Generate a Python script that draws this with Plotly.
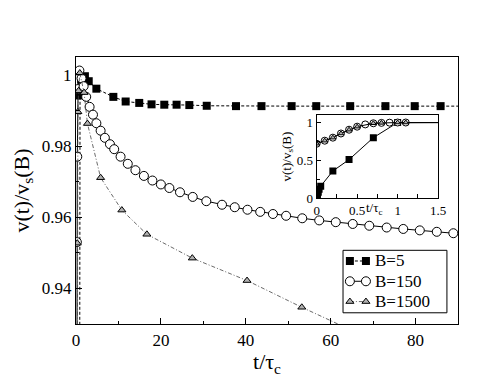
import plotly.graph_objects as go

# ---- main panel data ----
b5_t = [0.0, 0.4, 0.7, 0.95, 1.2, 2.1, 3.0, 4.8, 8.8, 11.7, 14.9, 17.8, 20.8, 23.7,
        26.7, 30.8, 37.7, 43.7, 50.8, 56.6, 64.6, 72.9, 79.8, 85.9, 95.0]
b5_v = [0.0, 0.51, 0.80, 0.9942, 0.9986, 0.9996, 0.9982, 0.9961, 0.9938, 0.9925,
        0.9921, 0.9917, 0.9916, 0.9916, 0.9915, 0.9913, 0.9912, 0.9912, 0.9912,
        0.9912, 0.9912, 0.9912, 0.9912, 0.9912, 0.9912]

b150_t = [0.0, 0.2, 0.3, 0.5, 0.8, 1.3, 1.8, 2.4, 3.2, 4.0, 4.8, 5.8, 6.8, 8.0, 9.0,
          10.5, 12.2, 14.0, 16.0, 18.0, 20.0, 22.0, 24.5, 27.5, 30.7, 34.4, 37.4,
          40.4, 43.4, 46.4, 49.5, 53.3, 57.3, 61.2, 65.2, 69.1, 73.2, 77.1, 81.0,
          85.0, 88.9]
b150_v = [0.72, 0.953, 0.977, 0.996, 1.0012, 0.9990, 0.9968, 0.9938, 0.9910, 0.9888,
          0.9864, 0.9843, 0.9823, 0.9805, 0.9791, 0.9770, 0.9750, 0.9732, 0.9716,
          0.9703, 0.9692, 0.9682, 0.9670, 0.9657, 0.9645, 0.9635, 0.9628, 0.9621,
          0.9615, 0.9609, 0.9604, 0.9597, 0.9591, 0.9586, 0.9581, 0.9576, 0.9571,
          0.9567, 0.9563, 0.9559, 0.9555]

b1500_t = [0.0, 0.3, 0.45, 0.6, 0.9, 1.9, 2.7, 5.8, 10.8, 16.7, 27.4, 40.3, 53.2, 67.5]
b1500_v = [0.72, 0.9527, 0.9896, 0.9955, 1.0005, 0.9950, 0.9863, 0.9711, 0.9620,
           0.9552, 0.9485, 0.9422, 0.9347, 0.9268]

# ---- inset data ----
in5_t = [0.0, 0.01, 0.02, 0.03, 0.05, 0.2, 0.4, 0.7, 1.0, 2.0]
in5_v = [0.0, 0.04, 0.08, 0.12, 0.16, 0.36, 0.51, 0.80, 1.0, 1.0]
in150_t = [0.0, 0.1, 0.2, 0.3, 0.4, 0.5, 0.6, 0.7, 0.8, 0.9, 1.0, 1.1, 2.0]
in150_v = [0.72, 0.76, 0.80, 0.855, 0.905, 0.945, 0.975, 0.99, 0.995, 0.998, 1.0, 1.0, 1.0]
in1500_t = [0.0, 0.1, 0.2, 0.3, 0.4, 0.5, 0.7, 0.8, 1.0, 1.1, 2.0]
in1500_v = [0.72, 0.76, 0.80, 0.855, 0.905, 0.945, 0.99, 0.995, 1.0, 1.0, 1.0]

legend_names = ["B=5", "B=150", "B=1500"]

FONT = "Liberation Serif"

sq = dict(symbol="square", size=8, color="black", line=dict(width=0))
circ = dict(symbol="circle", size=9, color="white", line=dict(width=1, color="black"))
tri = dict(symbol="triangle-up", size=7, color="#b0b0b0", line=dict(width=1, color="black"))
styles = [
    (sq, dict(color="black", width=1, dash="3px,2px")),
    (circ, dict(color="black", width=1)),
    (tri, dict(color="#444", width=0.8, dash="4px,2px,1px,2px")),
]

fig = go.Figure()

for (t, v), (mk, ln) in zip([(b5_t, b5_v), (b150_t, b150_v), (b1500_t, b1500_v)], styles):
    fig.add_trace(go.Scatter(x=t, y=v, mode="lines+markers", marker=mk, line=ln,
                             showlegend=False))

# inset traces
for (t, v), (mk, ln), sz in zip([(in5_t, in5_v), (in150_t, in150_v), (in1500_t, in1500_v)],
                                styles, [7, 7, 5]):
    fig.add_trace(go.Scatter(x=t, y=v, mode="lines+markers", xaxis="x2", yaxis="y2",
                             marker=dict(mk, size=sz), line=dict(color="black", width=1),
                             showlegend=False))

# hand-made legend (compact, like the original), drawn on overlaying unit axes
leg_y = [0.236, 0.160, 0.084]
for name, yy, (mk, ln) in zip(legend_names, leg_y, styles):
    fig.add_trace(go.Scatter(x=[0.717, 0.759], y=[yy, yy], mode="lines+markers",
                             xaxis="x3", yaxis="y3", marker=mk, line=ln,
                             showlegend=False, hoverinfo="skip"))
    fig.add_annotation(x=0.781, y=yy, xref="paper", yref="paper", xanchor="left",
                       yanchor="middle", showarrow=False, text=name, borderpad=0,
                       font=dict(family=FONT, size=17, color="black"))
fig.add_shape(type="rect", xref="paper", yref="paper", x0=0.699, x1=0.971, y0=0.042,
              y1=0.276, line=dict(color="black", width=1), fillcolor="white", layer="below")

ax = dict(showline=True, linecolor="black", linewidth=1.2, mirror=True, showgrid=False,
          zeroline=False, ticks="inside", tickcolor="black", ticklen=6, tickwidth=1,
          tickfont=dict(family=FONT, size=17, color="black"))

fig.update_layout(
    width=486, height=374,
    margin=dict(l=68, r=36, t=49, b=58),
    paper_bgcolor="white", plot_bgcolor="white",
    font=dict(family=FONT, color="black"),
    xaxis=dict(ax, range=[0, 90], tickvals=[0, 20, 40, 60, 80],
               minor=dict(dtick=10, tick0=0, ticks="inside", ticklen=3, tickcolor="black"),
               title=dict(text="t/τ<sub>c</sub>", font=dict(family=FONT, size=22), standoff=4)),
    yaxis=dict(ax, range=[0.93, 1.005], tickvals=[0.94, 0.96, 0.98, 1.0],
               ticktext=["0.94", "0.96", "0.98", "1"],
               minor=dict(dtick=0.01, tick0=0.93, ticks="inside", ticklen=3, tickcolor="black"),
               title=dict(text="v(t)/v<sub>s</sub>(B)", font=dict(family=FONT, size=22), standoff=6)),
    xaxis2=dict(ax, domain=[0.63, 0.948], anchor="y2", range=[0, 1.5],
                tickvals=[0, 0.5, 1, 1.5], ticktext=["0", "0.5", "1", "1.5"], ticklen=4,
                tickfont=dict(family=FONT, size=13, color="black"), linewidth=1,
                minor=dict(dtick=0.25, tick0=0, ticks="inside", ticklen=4, tickcolor="black")),
    yaxis2=dict(ax, domain=[0.471, 0.783], anchor="x2", range=[0, 1.1],
                tickvals=[0, 0.5, 1], ticktext=["0", "0.5", "1"], ticklen=4, linewidth=1,
                tickfont=dict(family=FONT, size=13, color="black"),
                minor=dict(dtick=0.25, tick0=0, ticks="inside", ticklen=3, tickcolor="black"),
                title=dict(text="v(t)/v<sub>s</sub>(B)", font=dict(family=FONT, size=13), standoff=2)),
    xaxis3=dict(overlaying="x", range=[0, 1], visible=False, anchor="y3", fixedrange=True),
    yaxis3=dict(overlaying="y", range=[0, 1], visible=False, anchor="x3", fixedrange=True),
    showlegend=False,
)

fig.add_annotation(x=0.81, y=0.432, xref="paper", yref="paper", showarrow=False,
                   text="t/τ<sub>c</sub>", font=dict(family=FONT, size=13, color="black"))

fig.write_html("out.html")
